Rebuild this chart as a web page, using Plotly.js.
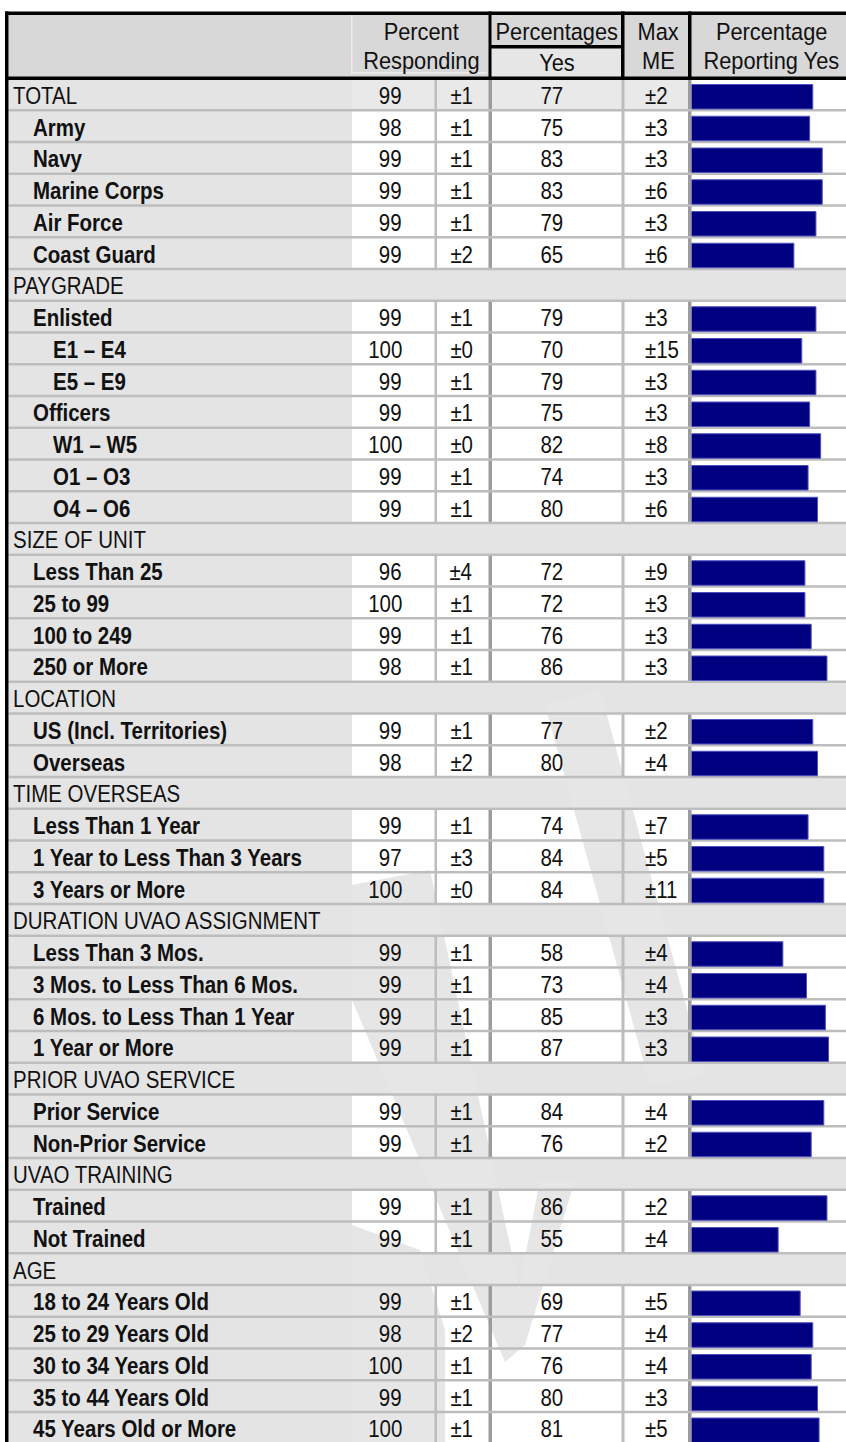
<!DOCTYPE html>
<html><head><meta charset="utf-8">
<script src="https://cdn.plot.ly/plotly-3.0.1.min.js"></script>
<style>html,body{margin:0;padding:0;background:#fff;}#chart{width:846px;height:1442px;}</style>
</head><body><div id="chart"></div>
<script>
// ---------- data ----------
const labels = ["TOTAL","Army","Navy","Marine Corps","Air Force","Coast Guard","PAYGRADE","Enlisted","E1 – E4","E5 – E9","Officers","W1 – W5","O1 – O3","O4 – O6","SIZE OF UNIT","Less Than 25","25 to 99","100 to 249","250 or More","LOCATION","US (Incl. Territories)","Overseas","TIME OVERSEAS","Less Than 1 Year","1 Year to Less Than 3 Years","3 Years or More","DURATION UVAO ASSIGNMENT","Less Than 3 Mos.","3 Mos. to Less Than 6 Mos.","6 Mos. to Less Than 1 Year","1 Year or More","PRIOR UVAO SERVICE","Prior Service","Non-Prior Service","UVAO TRAINING","Trained","Not Trained","AGE","18 to 24 Years Old","25 to 29 Years Old","30 to 34 Years Old","35 to 44 Years Old","45 Years Old or More"];
const rowType = ["total","sub","sub","sub","sub","sub","section","sub","sub2","sub2","sub","sub2","sub2","sub2","section","sub","sub","sub","sub","section","sub","sub","section","sub","sub","sub","section","sub","sub","sub","sub","section","sub","sub","section","sub","sub","section","sub","sub","sub","sub","sub"];
const pctResponding = [99,98,99,99,99,99,null,99,100,99,99,100,99,99,null,96,100,99,98,null,99,98,null,99,97,100,null,99,99,99,99,null,99,99,null,99,99,null,99,98,100,99,100];
const respME = [1,1,1,1,1,2,null,1,0,1,1,0,1,1,null,4,1,1,1,null,1,2,null,1,3,0,null,1,1,1,1,null,1,1,null,1,1,null,1,2,1,1,1];
const pctYes = [77,75,83,83,79,65,null,79,70,79,75,82,74,80,null,72,72,76,86,null,77,80,null,74,84,84,null,58,73,85,87,null,84,76,null,86,55,null,69,77,76,80,81];
const maxME = [2,3,3,6,3,6,null,3,15,3,3,8,3,6,null,9,3,3,3,null,2,4,null,7,5,11,null,4,4,3,3,null,4,2,null,2,4,null,5,4,4,3,5];
const headerTop = ["Percent","Percentages","Max","Percentage"];
const headerBottom = ["Responding","Yes","ME","Reporting Yes"];

// ---------- geometry (layout only) ----------
const W = 846, H = 1442, TOP = 78.5, PITCH = 31.75;
const ry = p => (p - TOP) / PITCH - 0.5;      // pixel row -> row units
const idx = labels.map((_, i) => i);
const FONT = "'Liberation Sans', Arial, sans-serif";
const FS = 23, HFS = 24.5, NARROW = 0.89;
const COL = {left: 8.5, labelEnd: 352, c4: 690, barStart: 691.5};
const GRAY = '#e4e4e4', HEAD = '#d8d8d8', LINE = '#bdbdbd', DARK = '#9c9c9c';

const shapes = [];
function rect(x0, x1, y0, y1, color) {
  shapes.push({type:'rect', xref:'x', yref:'y', x0, x1, y0, y1, fillcolor:color, line:{width:0}, layer:'below'});
}
function prect(x0, x1, p0, p1, color) { rect(x0, x1, ry(p0), ry(p1), color); }

// cell backgrounds
idx.forEach(i => {
  const t = rowType[i];
  if (t === 'section') { rect(COL.left, W, i - 0.5, i + 0.5, GRAY); return; }
  rect(COL.left, COL.labelEnd, i - 0.5, i + 0.5, GRAY);
  if (t === 'total') rect(COL.labelEnd, COL.c4, i - 0.5, i + 0.5, '#e9e9e9');
});

// watermark (faint)
function ppath(pts, color) {
  const d = pts.map((p, k) => (k ? 'L' : 'M') + p[0] + ',' + ry(p[1])).join(' ') + ' Z';
  shapes.push({type:'path', xref:'x', yref:'y', path:d, fillcolor:color, line:{width:0}, layer:'below'});
}
const WM = '#e6e6e6';
ppath([[545,705],[600,690],[705,1075],[650,1085]], WM);
ppath([[352,885],[430,870],[528,1330],[505,1362],[352,1000]], WM);
ppath([[505,1362],[540,1180],[575,1180],[525,1345]], WM);
ppath([[352,1225],[420,1250],[445,1330],[445,1442],[352,1442]], WM);

// vertical cell lines for non-section rows
idx.forEach(i => {
  if (rowType[i] === 'section') return;
  rect(434.5, 437, i - 0.5, i + 0.5, LINE);
  rect(488.5, 492, i - 0.5, i + 0.5, DARK);
  rect(621.5, 624.5, i - 0.5, i + 0.5, LINE);
  rect(688, 691.5, i - 0.5, i + 0.5, DARK);
});
// row separators
for (let k = 1; k < labels.length; k++) {
  rect(COL.left, W, k - 0.5 - 1.3 / PITCH, k - 0.5 + 1.3 / PITCH, LINE);
}

// header
prect(COL.left, W, 15, 77, HEAD);
prect(490, 623, 47, 77, '#e6e6e6');
prect(351, 352.5, 15, 74, '#ececec');
prect(352, 487, 72, 73.5, '#ececec');
prect(5, W, 11.5, 15, '#000');         // top border
prect(5, W, 76.5, 80, '#000');         // header bottom
prect(5, 8.5, 11.5, H, '#000');        // left border
prect(488.5, 491.5, 11.5, 80, '#000');
prect(621, 624.5, 11.5, 80, '#000');
prect(688, 691.5, 11.5, 80, '#000');
prect(489, 623, 45, 48.5, '#000');

// ---------- text ----------
const ann = [];
function txt(x, y, text, xanchor, bold, size) {
  ann.push({xref:'x', yref:'y', x, y, text, showarrow:false, xanchor, yanchor:'middle', borderpad:0,
            font:{family:FONT, size: size || FS, color:'#111', weight: bold ? 'bold' : 'normal'}});
}
const TY = 0.05;
const indentX = {total: 12, section: 12, sub: 32, sub2: 52};
idx.forEach(i => {
  const t = rowType[i];
  txt(indentX[t], i + TY, labels[i], 'left', t === 'sub' || t === 'sub2');
  if (pctResponding[i] !== null) txt(403, i + TY, String(pctResponding[i]), 'right');
  if (respME[i] !== null) txt(461, i + TY, '±' + respME[i], 'center');
  if (pctYes[i] !== null) txt(552, i + TY, String(pctYes[i]), 'center');
  if (maxME[i] !== null) txt(644, i + TY, '±' + maxME[i], 'left');
});
const hx = [421, 557, 658, 771];
headerTop.forEach((s, k) => txt(hx[k], ry(31), s, 'center', false, HFS));
headerBottom.forEach((s, k) => txt(hx[k], ry(k === 1 ? 62 : 60), s, 'center', false, HFS));

// ---------- traces ----------
const traces = [
  {type:'scatter', x:[0], y:[0], mode:'markers', marker:{opacity:0}, xaxis:'x', yaxis:'y', hoverinfo:'skip', showlegend:false},
  {type:'bar', orientation:'h', x:pctYes, y:idx, xaxis:'x2', yaxis:'y', width:0.77, offset:-0.31,
   marker:{color:'#000080', line:{color:'#4d4dbf', width:1}}, hoverinfo:'skip', showlegend:false}
];

const layout = {
  width: W, height: H, margin:{l:0, r:0, t:0, b:0, pad:0},
  paper_bgcolor:'#ffffff', plot_bgcolor:'rgba(0,0,0,0)', showlegend:false,
  xaxis:{range:[0, W], domain:[0, 1], visible:false, fixedrange:true, anchor:'y'},
  xaxis2:{range:[0, (W - COL.barStart) / 1.575], domain:[COL.barStart / W, 1], visible:false, anchor:'y', fixedrange:true},
  yaxis:{range:[ry(H), ry(0)], domain:[0, 1], visible:false, fixedrange:true, anchor:'x'},
  shapes, annotations: ann
};
Plotly.newPlot('chart', traces, layout, {staticPlot:true, displayModeBar:false}).then(gd => {
  // condense the text horizontally (the source uses a condensed typeface)
  gd.querySelectorAll('g.annotation').forEach(g => {
    const a = ann[+g.getAttribute('data-index')];
    const t = g.querySelector('text');
    if (!a || !t) return;
    t.style.transformBox = 'fill-box';
    t.style.transformOrigin = a.xanchor === 'left' ? 'left center' : a.xanchor === 'right' ? 'right center' : 'center center';
    t.style.transform = 'scaleX(' + NARROW + ')';
  });
});
</script></body></html>
